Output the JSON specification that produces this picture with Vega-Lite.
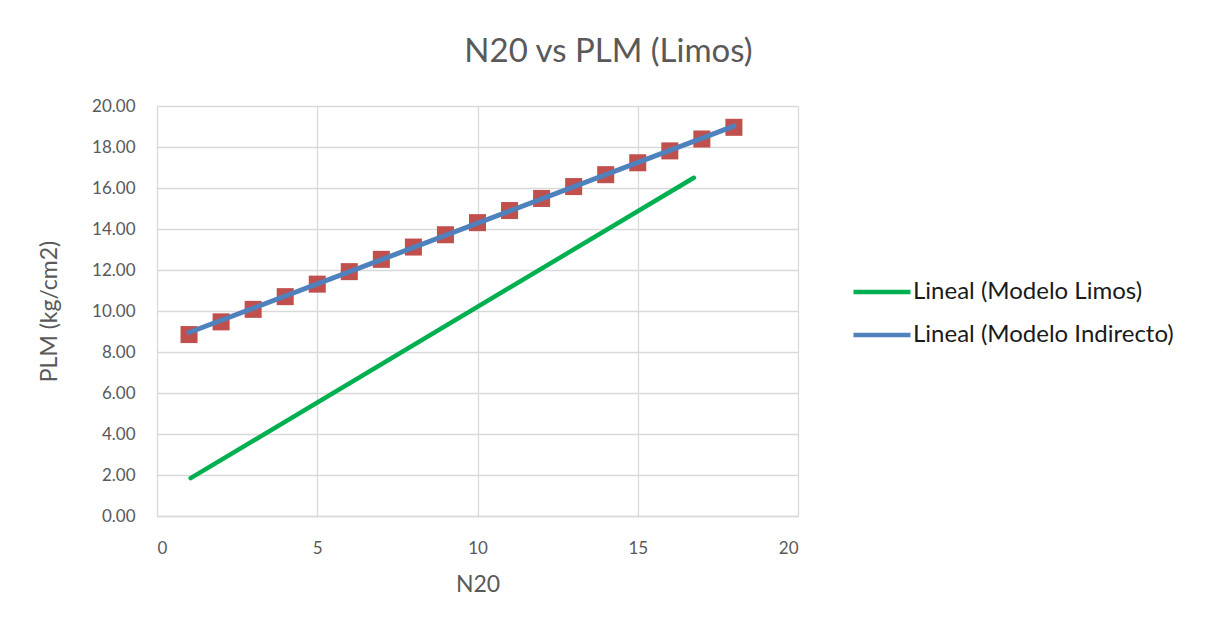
{
  "$schema": "https://vega.github.io/schema/vega-lite/v6.json",
  "width": 641,
  "height": 410,
  "autosize": {"type": "none"},
  "padding": {"left": 157, "top": 106, "right": 407, "bottom": 114},
  "background": "white",
  "config": {
    "font": "Lato",
    "view": {"stroke": null},
    "axis": {
      "gridColor": "#D9D9D9",
      "gridWidth": 1.3,
      "domainColor": "#D9D9D9",
      "domainWidth": 1.3,
      "ticks": false,
      "labelColor": "#595959",
      "labelFontSize": 17,
      "labelFont": "Lato",
      "titleColor": "#595959",
      "titleFontSize": 23,
      "titleFont": "Lato",
      "titleFontWeight": "normal"
    }
  },
  "title": {
    "text": "N20 vs PLM (Limos)",
    "fontSize": 33,
    "font": "Lato",
    "fontWeight": "normal",
    "color": "#595959",
    "anchor": "middle",
    "dx": 131,
    "offset": 28
  },
  "datasets": {
    "points": [
      {"n": 1, "plm": 8.85}, {"n": 2, "plm": 9.47}, {"n": 3, "plm": 10.08},
      {"n": 4, "plm": 10.70}, {"n": 5, "plm": 11.31}, {"n": 6, "plm": 11.92},
      {"n": 7, "plm": 12.52}, {"n": 8, "plm": 13.12}, {"n": 9, "plm": 13.72},
      {"n": 10, "plm": 14.31}, {"n": 11, "plm": 14.90}, {"n": 12, "plm": 15.49},
      {"n": 13, "plm": 16.07}, {"n": 14, "plm": 16.65}, {"n": 15, "plm": 17.23},
      {"n": 16, "plm": 17.81}, {"n": 17, "plm": 18.39}, {"n": 18, "plm": 18.96}
    ],
    "trends": [
      {"series": "Lineal (Modelo Limos)", "n": 1.05, "plm": 1.85},
      {"series": "Lineal (Modelo Limos)", "n": 16.75, "plm": 16.5},
      {"series": "Lineal (Modelo Indirecto)", "n": 1, "plm": 8.95},
      {"series": "Lineal (Modelo Indirecto)", "n": 18, "plm": 19.02}
    ]
  },
  "layer": [
    {
      "data": {"name": "trends"},
      "transform": [{"filter": "datum.series == 'Lineal (Modelo Limos)'"}],
      "mark": {"type": "line", "strokeWidth": 4.5, "strokeCap": "round"},
      "encoding": {
        "x": {
          "field": "n", "type": "quantitative",
          "scale": {"domain": [0, 20], "nice": false},
          "axis": {"values": [0, 5, 10, 15, 20], "title": "N20", "labelPadding": 24, "titlePadding": 17}
        },
        "y": {
          "field": "plm", "type": "quantitative",
          "scale": {"domain": [0, 20], "nice": false},
          "axis": {"values": [0, 2, 4, 6, 8, 10, 12, 14, 16, 18, 20], "format": ".2f", "title": "PLM (kg/cm2)", "labelPadding": 22, "titlePadding": 30, "domain": false}
        },
        "color": {
          "field": "series", "type": "nominal",
          "scale": {"domain": ["Lineal (Modelo Limos)", "Lineal (Modelo Indirecto)"], "range": ["#00B050", "#4F81BD"]},
          "legend": {
            "title": null,
            "orient": "none",
            "legendX": 694,
            "legendY": 155,
            "symbolType": "stroke",
            "symbolSize": 3249,
            "symbolStrokeWidth": 4.5,
            "labelFontSize": 24,
            "labelFont": "Lato",
            "labelColor": "#1a1a1a",
            "labelOffset": 0,
            "labelLimit": 400,
            "rowPadding": -15
          }
        }
      }
    },
    {
      "data": {"name": "points"},
      "mark": {"type": "square", "size": 290, "color": "#C0504D", "opacity": 1, "filled": true},
      "encoding": {
        "x": {"field": "n", "type": "quantitative"},
        "y": {"field": "plm", "type": "quantitative"}
      }
    },
    {
      "data": {"name": "trends"},
      "transform": [{"filter": "datum.series == 'Lineal (Modelo Indirecto)'"}],
      "mark": {"type": "line", "strokeWidth": 5, "strokeCap": "round"},
      "encoding": {
        "x": {"field": "n", "type": "quantitative"},
        "y": {"field": "plm", "type": "quantitative"},
        "color": {"field": "series", "type": "nominal"}
      }
    }
  ]
}
